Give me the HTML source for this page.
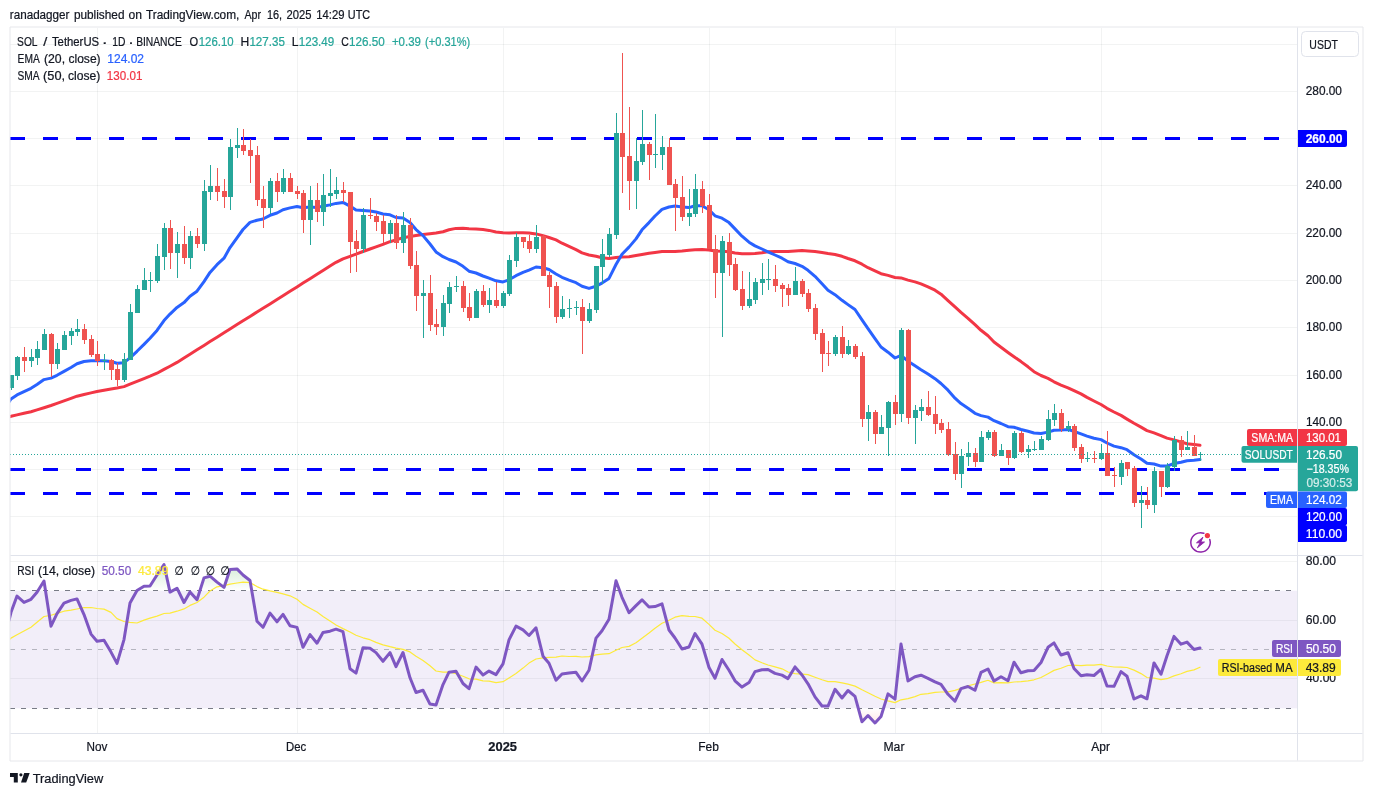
<!DOCTYPE html>
<html lang="en"><head><meta charset="utf-8"><title>SOLUSDT chart</title>
<style>html,body{margin:0;padding:0;background:#fff}svg{display:block}text{stroke-width:.22px}</style></head>
<body>
<svg width="1373" height="796" viewBox="0 0 1373 796" font-family='"Liberation Sans", "DejaVu Sans", sans-serif' font-size="12" fill="#131722">
<defs>
<clipPath id="cm"><rect x="10" y="28" width="1287.5" height="527"/></clipPath>
<clipPath id="cr"><rect x="10" y="556" width="1287.5" height="177"/></clipPath>
<clipPath id="c70"><rect x="10" y="556" width="1287.5" height="34.70"/></clipPath>
<clipPath id="c30"><rect x="10" y="708.30" width="1287.5" height="24.70"/></clipPath>
<linearGradient id="gob" gradientUnits="userSpaceOnUse" x1="0" y1="558.4" x2="0" y2="590.7"><stop offset="0" stop-color="#4caf50" stop-opacity="0.30"/><stop offset="1" stop-color="#4caf50" stop-opacity="0"/></linearGradient>
<linearGradient id="gos" gradientUnits="userSpaceOnUse" x1="0" y1="708.3" x2="0" y2="740.6"><stop offset="0" stop-color="#ff5252" stop-opacity="0"/><stop offset="1" stop-color="#ff5252" stop-opacity="0.30"/></linearGradient>
</defs>
<rect width="1373" height="796" fill="#fff"/>
<text x="9.79" y="19" textLength="59.69" lengthAdjust="spacingAndGlyphs" stroke="#131722" font-size="12.4">ranadagger</text>
<text x="73.88" y="19" textLength="50.59" lengthAdjust="spacingAndGlyphs" stroke="#131722" font-size="12.4">published</text>
<text x="128.61" y="19" textLength="13.47" lengthAdjust="spacingAndGlyphs" stroke="#131722" font-size="12.4">on</text>
<text x="145.96" y="19" textLength="93.34" lengthAdjust="spacingAndGlyphs" stroke="#131722" font-size="12.4">TradingView.com,</text>
<text x="244.50" y="19" textLength="16.55" lengthAdjust="spacingAndGlyphs" stroke="#131722" font-size="12.4">Apr</text>
<text x="266.92" y="19" textLength="15.14" lengthAdjust="spacingAndGlyphs" stroke="#131722" font-size="12.4">16,</text>
<text x="286.42" y="19" textLength="25.00" lengthAdjust="spacingAndGlyphs" stroke="#131722" font-size="12.4">2025</text>
<text x="316.29" y="19" textLength="28.28" lengthAdjust="spacingAndGlyphs" stroke="#131722" font-size="12.4">14:29</text>
<text x="347.82" y="19" textLength="22.29" lengthAdjust="spacingAndGlyphs" stroke="#131722" font-size="12.4">UTC</text>
<path d="M10 516.5H1297M10 469.5H1297M10 422.5H1297M10 375.5H1297M10 327.5H1297M10 280.5H1297M10 233.5H1297M10 185.5H1297M10 138.5H1297M10 91.5H1297M10 44.5H1297M97.5 28V733M297.5 28V733M503.5 28V733M709.5 28V733M895.5 28V733M1101.5 28V733M10 678.5H1297M10 620.5H1297M10 561.5H1297" stroke="rgba(42,46,57,0.06)" stroke-width="1" fill="none"/>
<rect x="10" y="590.70" width="1287.5" height="117.60" fill="#7e57c2" fill-opacity="0.1"/>
<path d="M10 590.5H1297" stroke="#787b86" stroke-opacity="1" stroke-width="1" stroke-dasharray="5 6" fill="none"/>
<path d="M10 649.5H1297" stroke="#787b86" stroke-opacity="0.5" stroke-width="1" stroke-dasharray="5 6" fill="none"/>
<path d="M10 708.5H1297" stroke="#787b86" stroke-opacity="1" stroke-width="1" stroke-dasharray="5 6" fill="none"/>
<path d="M10 138.5H1297" stroke="#0000ff" stroke-width="3" stroke-dasharray="15 18" fill="none"/>
<path d="M10 469.5H1297" stroke="#0000ff" stroke-width="3" stroke-dasharray="15 18" fill="none"/>
<path d="M10 493.5H1297" stroke="#0000ff" stroke-width="3" stroke-dasharray="15 18" fill="none"/>
<g clip-path="url(#cm)" fill="none" stroke-linejoin="round" stroke-linecap="round">
<path d="M9.0 417.0L11.0 416.3L17.0 414.9L24.0 413.3L31.0 411.7L37.0 409.9L44.0 407.7L51.0 405.5L57.0 403.4L64.0 400.9L71.0 398.4L77.0 396.2L84.0 394.5L91.0 392.9L97.0 391.5L104.0 390.2L111.0 389.0L117.0 388.0L124.0 386.6L130.0 384.2L137.0 381.4L144.0 378.6L150.0 376.2L157.0 373.2L164.0 369.4L170.0 366.2L177.0 362.4L184.0 357.9L190.0 354.2L197.0 349.8L204.0 345.4L210.0 341.6L217.0 337.2L224.0 332.8L230.0 329.0L237.0 324.6L243.0 320.8L250.0 316.4L257.0 312.0L263.0 308.3L270.0 303.9L277.0 299.5L283.0 295.7L290.0 291.3L297.0 286.9L303.0 283.1L310.0 278.7L317.0 274.3L323.0 270.5L330.0 266.1L336.0 262.3L343.0 258.8L350.0 256.3L356.0 254.2L363.0 251.5L370.0 249.0L376.0 246.9L383.0 244.3L390.0 241.7L396.0 239.9L403.0 237.8L410.0 236.5L416.0 235.6L423.0 234.4L430.0 233.7L436.0 233.0L443.0 231.7L449.0 229.8L456.0 228.4L463.0 228.3L469.0 228.8L476.0 229.1L483.0 229.6L489.0 230.4L496.0 232.0L503.0 232.8L509.0 233.1L516.0 232.7L523.0 232.8L529.0 232.9L536.0 233.9L543.0 235.6L549.0 237.5L556.0 239.9L562.0 243.2L569.0 246.4L576.0 249.6L582.0 252.9L589.0 255.0L596.0 256.2L602.0 257.7L609.0 258.5L616.0 257.6L622.0 256.9L629.0 256.7L636.0 255.5L642.0 254.4L649.0 253.2L655.0 252.4L662.0 251.5L669.0 251.4L675.0 251.5L682.0 251.0L689.0 250.3L695.0 249.7L702.0 249.5L709.0 250.1L715.0 250.9L722.0 251.2L729.0 251.7L735.0 253.0L742.0 253.8L749.0 253.8L755.0 253.6L762.0 252.7L768.0 251.7L775.0 251.4L782.0 251.4L788.0 251.6L795.0 251.1L802.0 250.6L808.0 251.0L815.0 251.5L822.0 252.6L828.0 253.6L835.0 254.5L842.0 256.3L848.0 258.5L855.0 260.8L862.0 264.2L868.0 267.7L875.0 270.9L881.0 273.7L888.0 275.4L895.0 277.5L901.0 277.9L908.0 280.1L915.0 281.9L921.0 283.9L928.0 286.9L935.0 290.2L941.0 294.2L948.0 300.6L955.0 306.9L961.0 312.4L968.0 318.3L975.0 324.6L981.0 330.3L988.0 335.8L994.0 342.0L1001.0 347.3L1008.0 352.5L1014.0 356.8L1021.0 361.6L1028.0 366.8L1034.0 371.7L1041.0 375.5L1048.0 378.4L1054.0 381.8L1061.0 385.1L1068.0 387.8L1074.0 390.7L1081.0 393.9L1087.0 397.4L1094.0 401.0L1101.0 404.5L1107.0 408.3L1114.0 412.0L1121.0 415.4L1127.0 419.1L1134.0 423.3L1141.0 427.1L1147.0 430.6L1154.0 432.9L1161.0 435.6L1167.0 438.1L1174.0 439.9L1181.0 441.9L1187.0 443.7L1194.0 444.5L1200.0 445.3" stroke="#f23645" stroke-width="3"/>
<path d="M9.0 402.0L11.0 399.0L17.0 394.9L24.0 391.6L31.0 388.3L37.0 384.5L44.0 379.6L51.0 378.1L57.0 375.3L64.0 371.4L71.0 367.5L77.0 363.8L84.0 361.5L91.0 360.8L97.0 360.8L104.0 360.7L111.0 361.5L117.0 363.2L124.0 362.7L130.0 357.9L137.0 351.3L144.0 344.4L150.0 338.2L157.0 330.4L164.0 320.6L170.0 314.1L177.0 307.4L184.0 302.6L190.0 296.2L197.0 291.2L204.0 281.6L210.0 272.4L217.0 264.7L224.0 258.2L230.0 247.6L237.0 237.8L243.0 229.5L250.0 222.4L257.0 220.2L263.0 219.0L270.0 215.3L277.0 213.0L283.0 209.7L290.0 207.9L297.0 206.5L303.0 207.7L310.0 207.0L317.0 207.4L323.0 206.2L330.0 204.9L336.0 203.4L343.0 202.4L350.0 206.1L356.0 210.1L363.0 210.6L370.0 211.0L376.0 212.0L383.0 214.0L390.0 214.8L396.0 217.5L403.0 218.1L410.0 222.6L416.0 229.6L423.0 235.6L430.0 244.0L436.0 251.9L443.0 256.7L449.0 259.5L456.0 262.0L463.0 266.3L469.0 271.2L476.0 273.0L483.0 276.0L489.0 278.2L496.0 280.8L503.0 281.9L509.0 279.8L516.0 275.7L523.0 272.4L529.0 270.1L536.0 267.0L543.0 267.7L549.0 269.5L556.0 274.0L562.0 277.3L569.0 280.2L576.0 282.7L582.0 286.2L589.0 288.4L596.0 286.2L602.0 283.1L609.0 278.4L616.0 264.5L622.0 254.2L629.0 247.1L636.0 238.9L642.0 229.8L649.0 222.6L655.0 216.0L662.0 209.4L669.0 207.0L675.0 206.1L682.0 207.1L689.0 207.6L695.0 205.8L702.0 205.8L709.0 209.8L715.0 215.8L722.0 218.2L729.0 222.6L735.0 228.9L742.0 236.2L749.0 242.2L755.0 245.9L762.0 249.0L768.0 251.8L775.0 255.0L782.0 258.2L788.0 261.7L795.0 263.5L802.0 266.3L808.0 270.3L815.0 276.3L822.0 283.7L828.0 290.3L835.0 294.7L842.0 300.3L848.0 304.6L855.0 309.5L862.0 319.9L868.0 328.6L875.0 338.6L881.0 347.0L888.0 352.2L895.0 358.0L901.0 355.3L908.0 361.2L915.0 365.8L921.0 369.7L928.0 374.0L935.0 378.7L941.0 383.5L948.0 390.2L955.0 398.2L961.0 403.6L968.0 408.3L975.0 413.3L981.0 415.6L988.0 417.1L994.0 420.7L1001.0 423.5L1008.0 426.7L1014.0 427.2L1021.0 429.5L1028.0 431.3L1034.0 433.0L1041.0 433.5L1048.0 432.1L1054.0 430.2L1061.0 430.0L1068.0 429.6L1074.0 431.3L1081.0 433.9L1087.0 436.1L1094.0 438.2L1101.0 439.6L1107.0 443.0L1114.0 446.1L1121.0 447.7L1127.0 449.7L1134.0 454.7L1141.0 459.0L1147.0 463.3L1154.0 464.0L1161.0 466.1L1167.0 466.1L1174.0 463.5L1181.0 462.2L1187.0 460.7L1194.0 460.2L1200.0 459.6" stroke="#2962ff" stroke-width="3"/>
</g>
<g clip-path="url(#cm)" shape-rendering="crispEdges">
<path d="M11.5 375.2V389.9M17.5 356.0V379.8M31.5 349.0V366.6M37.5 341.1V364.7M44.5 329.2V349.8M57.5 343.1V368.8M64.5 331.1V349.8M71.5 328.1V344.9M77.5 319.1V336.0M104.5 354.1V369.8M124.5 353.2V381.7M130.5 304.2V359.7M137.5 285.2V312.9M144.5 268.2V289.8M150.5 272.2V291.7M157.5 244.2V282.9M164.5 223.1V269.7M177.5 232.2V277.9M190.5 231.2V268.8M204.5 180.1V250.9M210.5 165.0V199.8M230.5 139.1V209.8M237.5 127.9V158.0M270.5 178.1V214.4M283.5 169.0V193.9M310.5 186.1V244.8M323.5 174.1V225.7M330.5 169.0V206.7M336.5 177.1V198.7M363.5 208.1V253.0M390.5 220.1V242.9M403.5 212.0V253.0M423.5 280.2V337.7M443.5 295.0V335.8M449.5 282.1V312.8M456.5 276.2V291.9M476.5 289.0V317.9M489.5 288.1V312.8M503.5 291.1V307.8M509.5 255.0V295.8M516.5 233.1V266.8M536.5 225.1V253.0M562.5 296.0V319.0M569.5 299.0V318.0M576.5 301.0V315.0M589.5 303.0V323.0M596.5 266.0V313.0M602.5 239.1V284.1M609.5 228.1V257.0M616.5 113.1V238.9M636.5 138.2V208.9M642.5 110.1V164.9M655.5 114.1V167.9M662.5 136.0V169.9M689.5 188.9V225.9M695.5 174.2V216.8M722.5 236.1V337.0M749.5 272.1V308.0M755.5 278.1V304.0M762.5 263.0V294.9M768.5 259.0V289.9M795.5 267.0V294.9M835.5 335.0V355.8M848.5 340.0V354.8M868.5 405.1V441.0M881.5 415.1V433.9M888.5 401.0V455.9M901.5 328.2V421.9M915.5 405.1V444.0M921.5 399.0V420.9M961.5 449.0V488.0M968.5 442.0V466.1M981.5 431.1V461.8M988.5 429.9V440.0M1001.5 444.0V455.8M1014.5 431.1V458.8M1028.5 445.0V457.8M1034.5 441.0V451.1M1041.5 436.1V449.8M1048.5 410.1V441.0M1054.5 404.1V425.9M1068.5 421.0V432.0M1087.5 452.1V461.9M1101.5 444.0V460.1M1121.5 460.1V485.0M1141.5 486.1V528.0M1154.5 467.1V512.9M1167.5 463.1V487.8M1174.5 436.1V471.0M1187.5 431.0V449.9M1200.5 451.9V460.9" stroke="#26a69a" stroke-width="1" fill="none"/>
<path d="M9 375.2h5v12.6h-5zM15 357.0h5v18.8h-5zM29 357.2h5v3.5h-5zM35 349.0h5v8.8h-5zM42 334.0h5v15.8h-5zM55 349.0h5v14.7h-5zM62 335.0h5v14.8h-5zM69 331.1h5v4.9h-5zM75 329.1h5v2.9h-5zM102 360.1h5v1.3h-5zM122 359.1h5v20.7h-5zM128 312.1h5v47.6h-5zM135 289.2h5v23.7h-5zM142 280.0h5v9.8h-5zM148 279.8h5v1.0h-5zM155 256.2h5v24.6h-5zM162 228.1h5v28.6h-5zM175 244.1h5v8.7h-5zM188 236.2h5v21.6h-5zM202 191.0h5v52.7h-5zM208 186.1h5v5.8h-5zM228 147.2h5v49.7h-5zM235 145.2h5v2.8h-5zM268 181.1h5v26.5h-5zM281 178.1h5v13.8h-5zM308 200.2h5v19.5h-5zM321 195.2h5v16.6h-5zM328 193.2h5v2.8h-5zM334 190.2h5v3.8h-5zM361 215.0h5v33.9h-5zM388 223.1h5v10.8h-5zM401 225.1h5v17.8h-5zM421 293.1h5v2.8h-5zM441 303.0h5v23.9h-5zM447 287.1h5v16.7h-5zM454 285.8h5v1.0h-5zM474 291.1h5v26.8h-5zM487 300.0h5v4.8h-5zM501 293.1h5v12.7h-5zM507 260.0h5v33.9h-5zM514 237.1h5v23.7h-5zM534 237.1h5v11.8h-5zM560 309.1h5v7.9h-5zM567 307.9h5v1.0h-5zM574 306.9h5v1.0h-5zM587 309.1h5v11.8h-5zM594 266.0h5v43.9h-5zM600 254.0h5v12.8h-5zM607 234.1h5v20.9h-5zM614 133.0h5v101.9h-5zM634 161.2h5v19.7h-5zM640 144.1h5v17.8h-5zM653 153.9h5v1.0h-5zM660 147.1h5v7.8h-5zM687 213.3h5v3.5h-5zM693 188.9h5v24.8h-5zM720 241.2h5v31.7h-5zM747 299.2h5v6.9h-5zM753 282.1h5v17.8h-5zM760 279.1h5v3.8h-5zM766 278.8h5v1.0h-5zM793 281.1h5v13.8h-5zM833 337.0h5v16.8h-5zM846 346.0h5v7.8h-5zM866 412.1h5v6.8h-5zM879 427.2h5v6.8h-5zM886 402.0h5v25.9h-5zM899 330.1h5v83.8h-5zM913 410.1h5v7.8h-5zM919 407.1h5v3.8h-5zM959 456.1h5v17.8h-5zM966 453.0h5v4.0h-5zM979 437.1h5v24.7h-5zM986 432.1h5v5.9h-5zM999 450.1h5v5.8h-5zM1012 433.0h5v24.9h-5zM1026 449.0h5v2.8h-5zM1032 448.8h5v1.0h-5zM1039 439.0h5v10.8h-5zM1046 419.1h5v20.9h-5zM1052 413.1h5v6.8h-5zM1066 426.1h5v2.9h-5zM1085 457.8h5v1.0h-5zM1099 453.1h5v5.8h-5zM1119 463.1h5v13.8h-5zM1139 500.1h5v2.8h-5zM1152 471.1h5v33.8h-5zM1165 466.1h5v20.7h-5zM1172 440.1h5v26.6h-5zM1185 447.1h5v2.8h-5zM1198 454.1h5v1.0h-5z" fill="#26a69a"/>
<path d="M24.5 347.2V371.7M51.5 333.1V376.7M84.5 324.2V343.9M91.5 335.2V356.8M97.5 341.1V365.8M111.5 359.1V379.8M117.5 362.9V386.1M170.5 220.1V268.8M184.5 226.1V263.8M197.5 228.1V247.7M217.5 168.0V200.8M224.5 179.1V208.0M243.5 129.1V154.9M250.5 139.1V182.8M257.5 146.2V205.8M263.5 186.1V227.6M277.5 173.0V201.9M290.5 173.0V191.9M297.5 186.1V198.9M303.5 190.2V232.9M317.5 183.1V221.8M343.5 182.1V201.5M350.5 192.2V272.6M356.5 230.1V271.8M370.5 198.1V218.8M376.5 213.0V230.9M383.5 215.0V242.9M396.5 215.0V248.9M410.5 218.0V268.6M416.5 251.1V310.7M430.5 275.2V330.8M436.5 309.1V334.8M463.5 281.2V311.8M469.5 293.1V320.9M483.5 285.2V306.8M496.5 282.1V307.8M523.5 237.1V247.7M529.5 235.1V253.0M543.5 235.1V275.7M549.5 272.1V308.0M556.5 282.2V323.0M582.5 299.0V353.9M622.5 52.9V192.8M629.5 107.1V209.8M649.5 142.2V179.9M669.5 138.2V184.9M675.5 179.1V230.8M682.5 176.2V221.0M702.5 181.2V212.8M709.5 193.9V249.2M715.5 235.1V297.9M729.5 233.1V275.7M735.5 258.1V290.9M742.5 271.1V310.0M775.5 265.0V291.9M782.5 283.1V307.0M788.5 284.1V306.1M802.5 279.1V296.9M808.5 289.1V311.9M815.5 304.1V339.9M822.5 328.9V371.9M828.5 341.0V365.9M842.5 326.1V357.8M855.5 344.0V358.8M862.5 352.2V426.9M875.5 410.1V444.0M895.5 395.1V424.9M908.5 329.0V423.9M928.5 391.1V415.9M935.5 396.0V433.9M941.5 419.1V432.9M948.5 422.1V455.9M955.5 442.0V479.9M975.5 448.0V466.9M994.5 429.9V456.8M1008.5 450.1V464.9M1021.5 431.1V452.8M1061.5 409.1V432.0M1074.5 423.9V451.1M1081.5 444.0V462.9M1094.5 451.1V462.9M1107.5 431.1V475.9M1114.5 467.1V487.0M1127.5 462.1V475.9M1134.5 466.1V506.9M1147.5 487.1V508.9M1161.5 471.1V496.9M1181.5 436.1V456.9M1194.5 435.1V455.9" stroke="#ef5350" stroke-width="1" fill="none"/>
<path d="M22 357.2h5v3.5h-5zM49 334.0h5v29.8h-5zM82 329.1h5v10.8h-5zM89 339.0h5v16.0h-5zM95 354.1h5v6.9h-5zM109 360.1h5v9.7h-5zM115 369.1h5v10.7h-5zM168 228.1h5v24.6h-5zM182 244.1h5v13.7h-5zM195 236.2h5v7.5h-5zM215 186.1h5v5.8h-5zM222 191.0h5v5.9h-5zM241 145.2h5v5.8h-5zM248 150.2h5v5.8h-5zM255 154.9h5v44.8h-5zM261 198.9h5v8.6h-5zM275 181.1h5v10.8h-5zM288 178.1h5v13.8h-5zM295 191.0h5v2.9h-5zM301 193.2h5v26.5h-5zM315 200.2h5v11.6h-5zM341 190.2h5v2.8h-5zM348 192.2h5v49.7h-5zM354 241.0h5v7.9h-5zM368 215.0h5v1.0h-5zM374 216.0h5v5.8h-5zM381 221.1h5v12.8h-5zM394 223.1h5v19.8h-5zM408 225.1h5v40.7h-5zM414 265.1h5v30.8h-5zM428 293.1h5v31.7h-5zM434 324.1h5v2.8h-5zM461 286.1h5v21.7h-5zM467 307.1h5v10.8h-5zM481 291.1h5v13.7h-5zM494 300.0h5v5.8h-5zM521 237.1h5v4.8h-5zM527 241.2h5v7.8h-5zM541 236.1h5v39.6h-5zM547 275.1h5v11.8h-5zM554 286.0h5v31.0h-5zM580 307.1h5v13.8h-5zM620 133.0h5v23.8h-5zM627 156.1h5v24.7h-5zM647 144.1h5v10.8h-5zM667 147.1h5v37.8h-5zM673 184.1h5v13.9h-5zM680 197.3h5v19.5h-5zM700 188.9h5v16.9h-5zM707 205.0h5v44.2h-5zM713 249.2h5v23.6h-5zM727 242.2h5v22.7h-5zM733 264.0h5v25.9h-5zM740 289.1h5v17.0h-5zM773 279.1h5v6.8h-5zM780 285.1h5v3.8h-5zM786 288.1h5v6.8h-5zM800 281.1h5v12.8h-5zM806 292.9h5v15.9h-5zM813 308.1h5v25.9h-5zM820 333.0h5v20.9h-5zM826 353.1h5v1.0h-5zM840 337.0h5v16.8h-5zM853 346.0h5v10.8h-5zM860 356.2h5v62.7h-5zM873 412.1h5v21.9h-5zM893 402.2h5v11.7h-5zM906 330.1h5v87.8h-5zM926 407.1h5v7.8h-5zM933 414.1h5v9.8h-5zM939 423.1h5v6.8h-5zM946 428.9h5v25.9h-5zM953 454.0h5v19.8h-5zM973 453.0h5v8.8h-5zM992 432.1h5v23.7h-5zM1006 450.1h5v7.8h-5zM1019 433.0h5v18.8h-5zM1059 413.1h5v15.8h-5zM1072 426.1h5v21.7h-5zM1079 447.0h5v11.8h-5zM1092 457.8h5v1.0h-5zM1105 453.1h5v22.9h-5zM1112 475.2h5v1.0h-5zM1125 462.1h5v6.8h-5zM1132 468.0h5v34.9h-5zM1145 500.1h5v4.8h-5zM1159 471.1h5v15.7h-5zM1179 440.1h5v9.8h-5zM1192 447.1h5v8.8h-5z" fill="#ef5350"/>
</g>
<path d="M10 454.5H1297" stroke="#26a69a" stroke-width="1" stroke-dasharray="1 2" fill="none"/>
<path d="M9.0 620.3L11.0 612.3L17.0 596.1L24.0 602.4L31.0 599.3L37.0 592.3L44.0 581.0L51.0 626.2L57.0 613.7L64.0 603.2L71.0 600.4L77.0 598.9L84.0 614.6L91.0 634.1L97.0 641.3L104.0 640.3L111.0 652.1L117.0 663.4L124.0 639.6L130.0 603.1L137.0 590.6L144.0 586.2L150.0 586.0L157.0 575.0L164.0 564.5L170.0 592.1L177.0 588.2L184.0 602.5L190.0 591.9L197.0 599.7L204.0 577.9L210.0 576.2L217.0 582.1L224.0 587.4L230.0 569.5L237.0 568.9L243.0 575.0L250.0 580.5L257.0 621.2L263.0 627.3L270.0 613.1L277.0 621.8L283.0 614.4L290.0 625.7L297.0 627.4L303.0 647.3L310.0 634.6L317.0 643.2L323.0 632.5L330.0 631.2L336.0 629.2L343.0 631.7L350.0 668.8L356.0 673.1L363.0 647.7L370.0 648.3L376.0 652.6L383.0 661.3L390.0 652.6L396.0 666.7L403.0 652.5L410.0 677.8L416.0 692.5L423.0 690.3L430.0 704.1L436.0 705.0L443.0 684.6L449.0 672.2L456.0 671.3L463.0 683.5L469.0 688.7L476.0 667.1L483.0 674.9L489.0 671.1L496.0 674.6L503.0 663.9L509.0 639.9L516.0 626.1L523.0 629.9L529.0 635.5L536.0 627.8L543.0 656.2L549.0 663.3L556.0 680.2L562.0 674.0L569.0 673.1L576.0 672.3L582.0 681.0L589.0 670.3L596.0 638.1L602.0 630.7L609.0 619.3L616.0 580.8L622.0 597.3L629.0 612.7L636.0 605.6L642.0 599.8L649.0 607.0L655.0 606.6L662.0 603.9L669.0 630.0L675.0 638.0L682.0 649.0L689.0 647.0L695.0 633.5L702.0 644.1L709.0 667.5L715.0 678.2L722.0 659.5L729.0 670.3L735.0 680.8L742.0 687.1L749.0 682.6L755.0 671.6L762.0 669.7L768.0 669.5L775.0 673.4L782.0 675.1L788.0 678.6L795.0 666.9L802.0 675.0L808.0 683.8L815.0 696.9L822.0 706.0L828.0 706.1L835.0 689.3L842.0 698.0L848.0 690.5L855.0 696.3L862.0 721.8L868.0 715.5L875.0 723.0L881.0 716.5L888.0 693.9L895.0 699.1L901.0 644.0L908.0 680.9L915.0 676.8L921.0 675.2L928.0 678.3L935.0 681.9L941.0 684.4L948.0 694.3L955.0 701.2L961.0 688.6L968.0 686.5L975.0 690.3L981.0 672.4L988.0 669.0L994.0 681.0L1001.0 676.7L1008.0 680.8L1014.0 662.2L1021.0 672.8L1028.0 670.7L1034.0 670.5L1041.0 662.5L1048.0 647.3L1054.0 642.9L1061.0 655.0L1068.0 652.7L1074.0 668.5L1081.0 675.8L1087.0 674.8L1094.0 675.5L1101.0 669.4L1107.0 686.1L1114.0 686.3L1121.0 671.6L1127.0 676.2L1134.0 699.0L1141.0 695.8L1147.0 698.8L1154.0 662.9L1161.0 674.2L1167.0 655.8L1174.0 636.4L1181.0 644.2L1187.0 642.1L1194.0 649.5L1200.0 648.0L1200.0 590.7L9.0 590.7Z" fill="url(#gob)" clip-path="url(#c70)"/>
<path d="M9.0 620.3L11.0 612.3L17.0 596.1L24.0 602.4L31.0 599.3L37.0 592.3L44.0 581.0L51.0 626.2L57.0 613.7L64.0 603.2L71.0 600.4L77.0 598.9L84.0 614.6L91.0 634.1L97.0 641.3L104.0 640.3L111.0 652.1L117.0 663.4L124.0 639.6L130.0 603.1L137.0 590.6L144.0 586.2L150.0 586.0L157.0 575.0L164.0 564.5L170.0 592.1L177.0 588.2L184.0 602.5L190.0 591.9L197.0 599.7L204.0 577.9L210.0 576.2L217.0 582.1L224.0 587.4L230.0 569.5L237.0 568.9L243.0 575.0L250.0 580.5L257.0 621.2L263.0 627.3L270.0 613.1L277.0 621.8L283.0 614.4L290.0 625.7L297.0 627.4L303.0 647.3L310.0 634.6L317.0 643.2L323.0 632.5L330.0 631.2L336.0 629.2L343.0 631.7L350.0 668.8L356.0 673.1L363.0 647.7L370.0 648.3L376.0 652.6L383.0 661.3L390.0 652.6L396.0 666.7L403.0 652.5L410.0 677.8L416.0 692.5L423.0 690.3L430.0 704.1L436.0 705.0L443.0 684.6L449.0 672.2L456.0 671.3L463.0 683.5L469.0 688.7L476.0 667.1L483.0 674.9L489.0 671.1L496.0 674.6L503.0 663.9L509.0 639.9L516.0 626.1L523.0 629.9L529.0 635.5L536.0 627.8L543.0 656.2L549.0 663.3L556.0 680.2L562.0 674.0L569.0 673.1L576.0 672.3L582.0 681.0L589.0 670.3L596.0 638.1L602.0 630.7L609.0 619.3L616.0 580.8L622.0 597.3L629.0 612.7L636.0 605.6L642.0 599.8L649.0 607.0L655.0 606.6L662.0 603.9L669.0 630.0L675.0 638.0L682.0 649.0L689.0 647.0L695.0 633.5L702.0 644.1L709.0 667.5L715.0 678.2L722.0 659.5L729.0 670.3L735.0 680.8L742.0 687.1L749.0 682.6L755.0 671.6L762.0 669.7L768.0 669.5L775.0 673.4L782.0 675.1L788.0 678.6L795.0 666.9L802.0 675.0L808.0 683.8L815.0 696.9L822.0 706.0L828.0 706.1L835.0 689.3L842.0 698.0L848.0 690.5L855.0 696.3L862.0 721.8L868.0 715.5L875.0 723.0L881.0 716.5L888.0 693.9L895.0 699.1L901.0 644.0L908.0 680.9L915.0 676.8L921.0 675.2L928.0 678.3L935.0 681.9L941.0 684.4L948.0 694.3L955.0 701.2L961.0 688.6L968.0 686.5L975.0 690.3L981.0 672.4L988.0 669.0L994.0 681.0L1001.0 676.7L1008.0 680.8L1014.0 662.2L1021.0 672.8L1028.0 670.7L1034.0 670.5L1041.0 662.5L1048.0 647.3L1054.0 642.9L1061.0 655.0L1068.0 652.7L1074.0 668.5L1081.0 675.8L1087.0 674.8L1094.0 675.5L1101.0 669.4L1107.0 686.1L1114.0 686.3L1121.0 671.6L1127.0 676.2L1134.0 699.0L1141.0 695.8L1147.0 698.8L1154.0 662.9L1161.0 674.2L1167.0 655.8L1174.0 636.4L1181.0 644.2L1187.0 642.1L1194.0 649.5L1200.0 648.0L1200.0 708.3L9.0 708.3Z" fill="url(#gos)" clip-path="url(#c30)"/>
<g clip-path="url(#cr)" fill="none" stroke-linejoin="round" stroke-linecap="round">
<path d="M9.0 640.1L11.0 638.1L17.0 634.8L24.0 631.0L31.0 627.2L37.0 622.3L44.0 616.5L51.0 615.3L57.0 613.4L64.0 611.2L71.0 610.2L77.0 609.0L84.0 607.7L91.0 607.5L97.0 608.5L104.0 609.1L111.0 612.4L117.0 618.6L124.0 621.5L130.0 622.3L137.0 623.0L144.0 620.1L150.0 618.1L157.0 616.1L164.0 613.5L170.0 613.1L177.0 611.2L184.0 608.9L190.0 605.4L197.0 602.5L204.0 597.2L210.0 591.0L217.0 586.8L224.0 585.7L230.0 584.2L237.0 583.0L243.0 582.2L250.0 582.6L257.0 586.6L263.0 589.2L270.0 590.9L277.0 592.3L283.0 593.9L290.0 595.8L297.0 599.3L303.0 604.4L310.0 608.2L317.0 612.1L323.0 616.6L330.0 621.1L336.0 625.0L343.0 628.6L350.0 632.0L356.0 635.3L363.0 637.8L370.0 639.7L376.0 642.4L383.0 644.9L390.0 646.7L396.0 648.1L403.0 649.4L410.0 651.9L416.0 656.2L423.0 660.4L430.0 665.7L436.0 671.0L443.0 672.1L449.0 672.0L456.0 673.7L463.0 676.2L469.0 678.8L476.0 679.2L483.0 680.8L489.0 681.1L496.0 682.7L503.0 681.7L509.0 677.9L516.0 673.4L523.0 668.1L529.0 663.1L536.0 659.0L543.0 657.9L549.0 657.3L556.0 657.1L562.0 656.0L569.0 656.5L576.0 656.3L582.0 657.0L589.0 656.7L596.0 654.8L602.0 654.2L609.0 653.7L616.0 650.2L622.0 647.5L629.0 646.4L636.0 642.8L642.0 638.2L649.0 633.0L655.0 628.2L662.0 623.2L669.0 620.2L675.0 617.2L682.0 615.6L689.0 616.3L695.0 616.5L702.0 618.2L709.0 624.4L715.0 630.2L722.0 633.5L729.0 638.2L735.0 644.0L742.0 649.7L749.0 655.1L755.0 659.9L762.0 662.8L768.0 665.0L775.0 666.8L782.0 668.8L788.0 672.0L795.0 673.6L802.0 674.2L808.0 674.6L815.0 677.2L822.0 679.8L828.0 681.6L835.0 681.7L842.0 682.8L848.0 684.2L855.0 686.1L862.0 689.8L868.0 692.8L875.0 696.3L881.0 699.0L888.0 700.9L895.0 702.6L901.0 699.8L908.0 698.6L915.0 696.6L921.0 694.3L928.0 693.6L935.0 692.4L941.0 692.0L948.0 691.8L955.0 690.4L961.0 688.4L968.0 685.8L975.0 684.0L981.0 682.4L988.0 680.3L994.0 682.9L1001.0 682.6L1008.0 682.9L1014.0 682.0L1021.0 681.6L1028.0 680.8L1034.0 679.8L1041.0 677.5L1048.0 673.7L1054.0 670.4L1061.0 668.2L1068.0 665.5L1074.0 665.2L1081.0 665.7L1087.0 665.2L1094.0 665.1L1101.0 664.3L1107.0 666.0L1114.0 667.0L1121.0 667.1L1127.0 667.5L1134.0 670.1L1141.0 673.6L1147.0 677.5L1154.0 678.1L1161.0 679.6L1167.0 678.7L1174.0 675.9L1181.0 673.7L1187.0 671.4L1194.0 669.9L1200.0 667.2" stroke="#fdea3b" stroke-width="1.2"/>
<path d="M9.0 620.3L11.0 612.3L17.0 596.1L24.0 602.4L31.0 599.3L37.0 592.3L44.0 581.0L51.0 626.2L57.0 613.7L64.0 603.2L71.0 600.4L77.0 598.9L84.0 614.6L91.0 634.1L97.0 641.3L104.0 640.3L111.0 652.1L117.0 663.4L124.0 639.6L130.0 603.1L137.0 590.6L144.0 586.2L150.0 586.0L157.0 575.0L164.0 564.5L170.0 592.1L177.0 588.2L184.0 602.5L190.0 591.9L197.0 599.7L204.0 577.9L210.0 576.2L217.0 582.1L224.0 587.4L230.0 569.5L237.0 568.9L243.0 575.0L250.0 580.5L257.0 621.2L263.0 627.3L270.0 613.1L277.0 621.8L283.0 614.4L290.0 625.7L297.0 627.4L303.0 647.3L310.0 634.6L317.0 643.2L323.0 632.5L330.0 631.2L336.0 629.2L343.0 631.7L350.0 668.8L356.0 673.1L363.0 647.7L370.0 648.3L376.0 652.6L383.0 661.3L390.0 652.6L396.0 666.7L403.0 652.5L410.0 677.8L416.0 692.5L423.0 690.3L430.0 704.1L436.0 705.0L443.0 684.6L449.0 672.2L456.0 671.3L463.0 683.5L469.0 688.7L476.0 667.1L483.0 674.9L489.0 671.1L496.0 674.6L503.0 663.9L509.0 639.9L516.0 626.1L523.0 629.9L529.0 635.5L536.0 627.8L543.0 656.2L549.0 663.3L556.0 680.2L562.0 674.0L569.0 673.1L576.0 672.3L582.0 681.0L589.0 670.3L596.0 638.1L602.0 630.7L609.0 619.3L616.0 580.8L622.0 597.3L629.0 612.7L636.0 605.6L642.0 599.8L649.0 607.0L655.0 606.6L662.0 603.9L669.0 630.0L675.0 638.0L682.0 649.0L689.0 647.0L695.0 633.5L702.0 644.1L709.0 667.5L715.0 678.2L722.0 659.5L729.0 670.3L735.0 680.8L742.0 687.1L749.0 682.6L755.0 671.6L762.0 669.7L768.0 669.5L775.0 673.4L782.0 675.1L788.0 678.6L795.0 666.9L802.0 675.0L808.0 683.8L815.0 696.9L822.0 706.0L828.0 706.1L835.0 689.3L842.0 698.0L848.0 690.5L855.0 696.3L862.0 721.8L868.0 715.5L875.0 723.0L881.0 716.5L888.0 693.9L895.0 699.1L901.0 644.0L908.0 680.9L915.0 676.8L921.0 675.2L928.0 678.3L935.0 681.9L941.0 684.4L948.0 694.3L955.0 701.2L961.0 688.6L968.0 686.5L975.0 690.3L981.0 672.4L988.0 669.0L994.0 681.0L1001.0 676.7L1008.0 680.8L1014.0 662.2L1021.0 672.8L1028.0 670.7L1034.0 670.5L1041.0 662.5L1048.0 647.3L1054.0 642.9L1061.0 655.0L1068.0 652.7L1074.0 668.5L1081.0 675.8L1087.0 674.8L1094.0 675.5L1101.0 669.4L1107.0 686.1L1114.0 686.3L1121.0 671.6L1127.0 676.2L1134.0 699.0L1141.0 695.8L1147.0 698.8L1154.0 662.9L1161.0 674.2L1167.0 655.8L1174.0 636.4L1181.0 644.2L1187.0 642.1L1194.0 649.5L1200.0 648.0" stroke="#7e57c2" stroke-width="3"/>
</g>
<path d="M10 27H1363V761H10Z" stroke="#e6e7eb" stroke-width="1" fill="none"/>
<path d="M1297.5 27.5V760.5 M10.5 555.5H1362.5 M10.5 733.5H1362.5" stroke="#e0e3eb" stroke-width="1" fill="none"/>
<text x="17.10" y="45.8" textLength="20.41" lengthAdjust="spacingAndGlyphs" stroke="#131722">SOL</text>
<text x="43.20" y="45.8" textLength="4.01" lengthAdjust="spacingAndGlyphs" stroke="#131722">/</text>
<text x="51.96" y="45.8" textLength="47.14" lengthAdjust="spacingAndGlyphs" stroke="#131722">TetherUS</text>
<text x="101.85" y="46.6" textLength="6.00" lengthAdjust="spacingAndGlyphs" stroke="#131722" font-size="15">·</text>
<text x="112.24" y="45.8" textLength="13.17" lengthAdjust="spacingAndGlyphs" stroke="#131722">1D</text>
<text x="128.10" y="46.6" textLength="6.00" lengthAdjust="spacingAndGlyphs" stroke="#131722" font-size="15">·</text>
<text x="136.14" y="45.8" textLength="45.66" lengthAdjust="spacingAndGlyphs" stroke="#131722">BINANCE</text>
<text x="189.44" y="45.8" textLength="8.61" lengthAdjust="spacingAndGlyphs" stroke="#131722">O</text>
<text x="198.75" y="45.8" textLength="34.78" lengthAdjust="spacingAndGlyphs" stroke="#26a69a" fill="#26a69a">126.10</text>
<text x="240.59" y="45.8" textLength="8.74" lengthAdjust="spacingAndGlyphs" stroke="#131722">H</text>
<text x="249.44" y="45.8" textLength="35.40" lengthAdjust="spacingAndGlyphs" stroke="#26a69a" fill="#26a69a">127.35</text>
<text x="291.69" y="45.8" textLength="6.75" lengthAdjust="spacingAndGlyphs" stroke="#131722">L</text>
<text x="298.73" y="45.8" textLength="35.55" lengthAdjust="spacingAndGlyphs" stroke="#26a69a" fill="#26a69a">123.49</text>
<text x="341.27" y="45.8" textLength="7.52" lengthAdjust="spacingAndGlyphs" stroke="#131722">C</text>
<text x="349.03" y="45.8" textLength="35.71" lengthAdjust="spacingAndGlyphs" stroke="#26a69a" fill="#26a69a">126.50</text>
<text x="391.92" y="45.8" textLength="28.97" lengthAdjust="spacingAndGlyphs" stroke="#26a69a" fill="#26a69a">+0.39</text>
<text x="425.11" y="45.8" textLength="45.11" lengthAdjust="spacingAndGlyphs" stroke="#26a69a" fill="#26a69a">(+0.31%)</text>
<text x="17.62" y="62.9" textLength="22.11" lengthAdjust="spacingAndGlyphs" stroke="#131722">EMA</text>
<text x="43.93" y="62.9" textLength="21.12" lengthAdjust="spacingAndGlyphs" stroke="#131722">(20,</text>
<text x="68.50" y="62.9" textLength="32.07" lengthAdjust="spacingAndGlyphs" stroke="#131722">close)</text>
<text x="107.30" y="62.9" textLength="36.70" lengthAdjust="spacingAndGlyphs" stroke="#2962ff" fill="#2962ff">124.02</text>
<text x="17.49" y="79.8" textLength="22.11" lengthAdjust="spacingAndGlyphs" stroke="#131722">SMA</text>
<text x="43.10" y="79.8" textLength="21.99" lengthAdjust="spacingAndGlyphs" stroke="#131722">(50,</text>
<text x="67.99" y="79.8" textLength="32.38" lengthAdjust="spacingAndGlyphs" stroke="#131722">close)</text>
<text x="106.83" y="79.8" textLength="35.55" lengthAdjust="spacingAndGlyphs" stroke="#f23645" fill="#f23645">130.01</text>
<text x="17.15" y="574.9" textLength="17.01" lengthAdjust="spacingAndGlyphs" stroke="#131722">RSI</text>
<text x="37.93" y="574.9" textLength="21.34" lengthAdjust="spacingAndGlyphs" stroke="#131722">(14,</text>
<text x="62.49" y="574.9" textLength="32.48" lengthAdjust="spacingAndGlyphs" stroke="#131722">close)</text>
<text x="101.71" y="574.9" textLength="29.51" lengthAdjust="spacingAndGlyphs" stroke="#7e57c2" fill="#7e57c2">50.50</text>
<text x="137.95" y="574.9" textLength="30.49" lengthAdjust="spacingAndGlyphs" stroke="#fdea3b" fill="#fdea3b">43.89</text>
<text x="174.53" y="575" textLength="9.26" lengthAdjust="spacingAndGlyphs" stroke="#131722" font-size="12.5" font-family='DejaVu Sans, sans-serif'>∅</text>
<text x="190.83" y="575" textLength="9.26" lengthAdjust="spacingAndGlyphs" stroke="#131722" font-size="12.5" font-family='DejaVu Sans, sans-serif'>∅</text>
<text x="205.63" y="575" textLength="9.26" lengthAdjust="spacingAndGlyphs" stroke="#131722" font-size="12.5" font-family='DejaVu Sans, sans-serif'>∅</text>
<text x="220.43" y="575" textLength="9.26" lengthAdjust="spacingAndGlyphs" stroke="#131722" font-size="12.5" font-family='DejaVu Sans, sans-serif'>∅</text>
<text x="1305.92" y="426.0" textLength="36.03" lengthAdjust="spacingAndGlyphs" stroke="#131722">140.00</text>
<text x="1305.92" y="379.0" textLength="36.03" lengthAdjust="spacingAndGlyphs" stroke="#131722">160.00</text>
<text x="1305.92" y="331.0" textLength="36.03" lengthAdjust="spacingAndGlyphs" stroke="#131722">180.00</text>
<text x="1305.71" y="284.0" textLength="36.24" lengthAdjust="spacingAndGlyphs" stroke="#131722">200.00</text>
<text x="1305.71" y="237.0" textLength="36.24" lengthAdjust="spacingAndGlyphs" stroke="#131722">220.00</text>
<text x="1305.71" y="189.0" textLength="36.24" lengthAdjust="spacingAndGlyphs" stroke="#131722">240.00</text>
<text x="1305.71" y="142.0" textLength="36.24" lengthAdjust="spacingAndGlyphs" stroke="#131722">260.00</text>
<text x="1305.71" y="95.0" textLength="36.24" lengthAdjust="spacingAndGlyphs" stroke="#131722">280.00</text>
<text x="1305.95" y="682.0" textLength="30.08" lengthAdjust="spacingAndGlyphs" stroke="#131722">40.00</text>
<text x="1305.69" y="624.0" textLength="30.34" lengthAdjust="spacingAndGlyphs" stroke="#131722">60.00</text>
<text x="1305.69" y="565.0" textLength="30.34" lengthAdjust="spacingAndGlyphs" stroke="#131722">80.00</text>
<text x="86.42" y="751" textLength="20.87" lengthAdjust="spacingAndGlyphs" stroke="#131722">Nov</text>
<text x="286.06" y="751" textLength="20.17" lengthAdjust="spacingAndGlyphs" stroke="#131722">Dec</text>
<text x="488.36" y="751" textLength="28.62" lengthAdjust="spacingAndGlyphs" stroke="#131722" font-weight="bold">2025</text>
<text x="698.20" y="751" textLength="20.63" lengthAdjust="spacingAndGlyphs" stroke="#131722">Feb</text>
<text x="883.48" y="751" textLength="20.99" lengthAdjust="spacingAndGlyphs" stroke="#131722">Mar</text>
<text x="1091.30" y="751" textLength="18.59" lengthAdjust="spacingAndGlyphs" stroke="#131722">Apr</text>
<rect x="1301.5" y="31.5" width="57" height="25" rx="4" fill="#fff" stroke="#e0e3eb"/>
<text x="1309.33" y="48.5" textLength="28.54" lengthAdjust="spacingAndGlyphs" stroke="#131722">USDT</text>
<path d="M1298 130H1345Q1347 130 1347 132V145Q1347 147 1345 147H1298Z" fill="#0000ff"/>
<text x="1305.70" y="143" textLength="36.65" lengthAdjust="spacingAndGlyphs" stroke="#fff" fill="#fff" font-weight="bold">260.00</text>
<path d="M1249 429H1297V446H1249Q1247 446 1247 444V431Q1247 429 1249 429Z" fill="#f23645"/>
<text x="1251.36" y="441.8" textLength="41.72" lengthAdjust="spacingAndGlyphs" stroke="#fff" fill="#fff">SMA:MA</text>
<path d="M1298 429H1345Q1347 429 1347 431V444Q1347 446 1345 446H1298Z" fill="#f23645"/>
<text x="1305.95" y="441.8" textLength="35.03" lengthAdjust="spacingAndGlyphs" stroke="#fff" fill="#fff">130.01</text>
<path d="M1243.5 446H1297.0V462.7H1243.5Q1241.5 462.7 1241.5 460.7V448Q1241.5 446 1243.5 446Z" fill="#26a69a"/>
<text x="1244.68" y="458.8" textLength="48.18" lengthAdjust="spacingAndGlyphs" stroke="#fff" fill="#fff">SOLUSDT</text>
<path d="M1298 446H1356Q1358 446 1358 448V489.3Q1358 491.3 1356 491.3H1298Z" fill="#26a69a"/>
<text x="1305.92" y="458.8" textLength="36.03" lengthAdjust="spacingAndGlyphs" stroke="#fff" fill="#fff">126.50</text>
<text x="1306.46" y="472.7" textLength="42.46" lengthAdjust="spacingAndGlyphs" stroke="#fff" fill="#fff">−18.35%</text>
<text x="1306.41" y="486.7" textLength="45.85" lengthAdjust="spacingAndGlyphs" stroke="#fff" fill="#fff" fill-opacity="0.75" stroke-opacity="0.75">09:30:53</text>
<path d="M1268 491.5H1297V508.0H1268Q1266 508.0 1266 506.0V493.5Q1266 491.5 1268 491.5Z" fill="#2962ff"/>
<text x="1270.02" y="504.2" textLength="23.00" lengthAdjust="spacingAndGlyphs" stroke="#fff" fill="#fff">EMA</text>
<path d="M1298 491.5H1345Q1347 491.5 1347 493.5V506.0Q1347 508.0 1345 508.0H1298Z" fill="#2962ff"/>
<text x="1305.92" y="504.2" textLength="35.97" lengthAdjust="spacingAndGlyphs" stroke="#fff" fill="#fff">124.02</text>
<path d="M1298 508H1345Q1347 508 1347 510V523.2Q1347 525.2 1345 525.2H1298Z" fill="#0000ff"/>
<text x="1305.92" y="521" textLength="36.03" lengthAdjust="spacingAndGlyphs" stroke="#fff" fill="#fff">120.00</text>
<path d="M1298 525H1345Q1347 525 1347 527V540Q1347 542 1345 542H1298Z" fill="#0000ff"/>
<text x="1305.89" y="538" textLength="36.18" lengthAdjust="spacingAndGlyphs" stroke="#fff" fill="#fff">110.00</text>
<path d="M1274 640H1297V657H1274Q1272 657 1272 655V642Q1272 640 1274 640Z" fill="#7e57c2"/>
<text x="1275.95" y="652.7" textLength="17.01" lengthAdjust="spacingAndGlyphs" stroke="#fff" fill="#fff">RSI</text>
<path d="M1298 640H1339Q1341 640 1341 642V655Q1341 657 1339 657H1298Z" fill="#7e57c2"/>
<text x="1305.90" y="652.7" textLength="30.03" lengthAdjust="spacingAndGlyphs" stroke="#fff" fill="#fff">50.50</text>
<path d="M1220 659H1297V676H1220Q1218 676 1218 674V661Q1218 659 1220 659Z" fill="#fdea3b"/>
<text x="1221.81" y="671.7" textLength="50.31" lengthAdjust="spacingAndGlyphs" stroke="#131722">RSI-based</text>
<text x="1275.34" y="671.7" textLength="17.26" lengthAdjust="spacingAndGlyphs" stroke="#131722">MA</text>
<path d="M1298 659H1339Q1341 659 1341 661V674Q1341 676 1339 676H1298Z" fill="#fdea3b"/>
<text x="1305.65" y="671.7" textLength="30.08" lengthAdjust="spacingAndGlyphs" stroke="#131722">43.89</text>
<path d="M1209.78 539.56A9.7 9.7 0 1 1 1203.82 533.28" stroke="#8e24aa" stroke-width="1.5" fill="none" stroke-linecap="round"/>
<path d="M1202.9 537.2L1196.5 542.8H1200.1L1197.4 547.8L1204.5 542H1200.9Z" fill="#8e24aa" stroke="#8e24aa" stroke-width="0.9" stroke-linejoin="round"/>
<circle cx="1207.4" cy="535.6" r="2.6" fill="#f23645"/>
<g fill="#131722"><path d="M10 773h7.8v9.6h-4v-5.6h-3.8z"/><circle cx="20.9" cy="774.8" r="1.6"/><path d="M24.2 773h5.5l-3.5 9.6h-5.2z"/></g>
<text x="32.75" y="782.6" textLength="70.49" lengthAdjust="spacingAndGlyphs" stroke="#131722" font-size="13">TradingView</text>
</svg>
</body></html>
